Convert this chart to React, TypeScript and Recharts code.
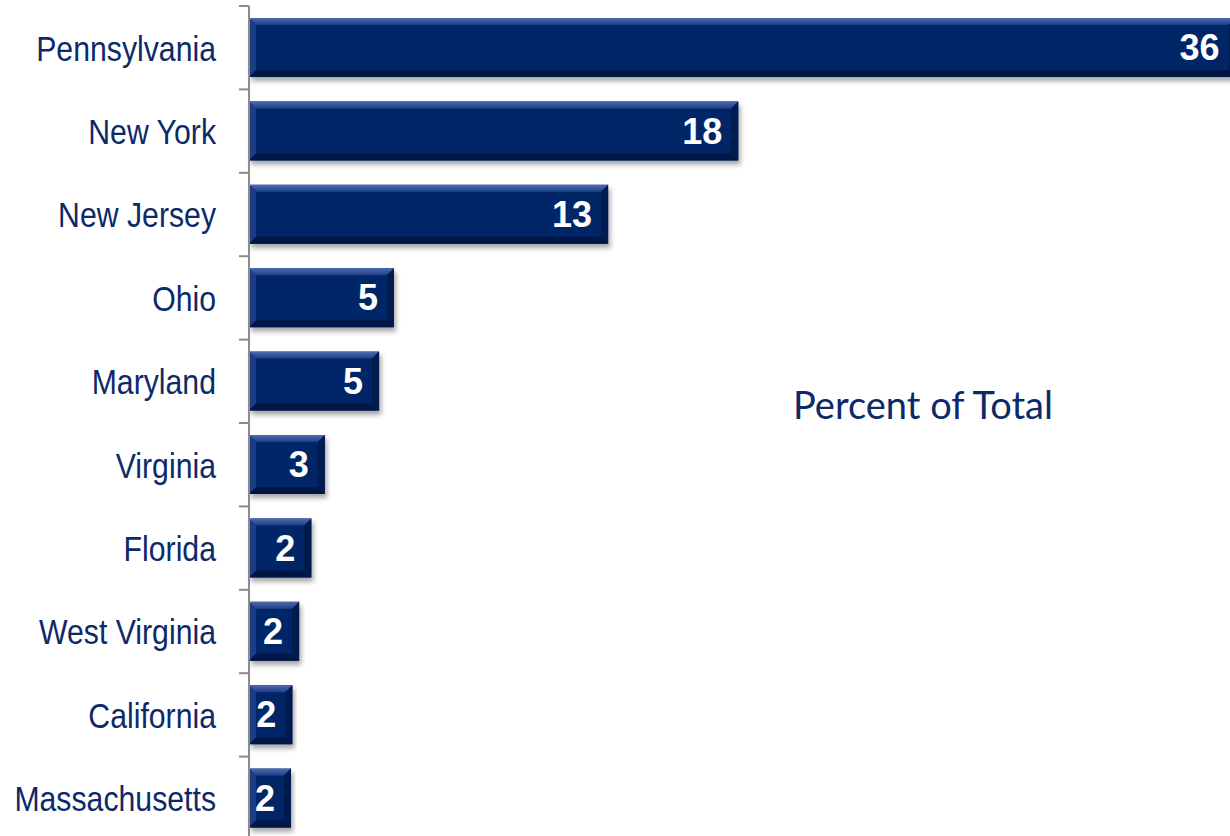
import { Bar, BarChart, Customized, LabelList, XAxis, YAxis } from "recharts";

const states = [
  "Pennsylvania",
  "New York",
  "New Jersey",
  "Ohio",
  "Maryland",
  "Virginia",
  "Florida",
  "West Virginia",
  "California",
  "Massachusetts",
];
// share of total (%); labels show rounded values
const shares = [36.4, 18.05, 13.25, 5.35, 4.8, 2.8, 2.3, 1.85, 1.6, 1.55];
const chartTitle = "Percent of Total";

const data = states.map((state, i) => ({ state, share: shares[i] }));

const NAVY = "#062567";
const TEXT = "#0c2a69";
const TICK_SIZE = 10;
const TICK_MARGIN = 23;

// y axis label + boundary tick marks (ticks sit between categories, not at centers)
const StateTick = (props: any) => {
  const { x, y, payload, index } = props;
  const half = payload?.offset ?? 41.7;
  const lx = x + TICK_MARGIN;
  return (
    <g>
      {/* no narrow font installed, so squeeze Liberation Sans horizontally */}
      <text transform={`translate(${x},${y}) scale(0.84,1)`} dy="0.36em" textAnchor="end" fill={TEXT} fontSize={36}
        fontFamily="'Liberation Sans', Arial, sans-serif">
        {payload.value}
      </text>
      <line x1={lx} x2={lx + TICK_SIZE} y1={y - half} y2={y - half} stroke="#8c8c8c" strokeWidth={2} />
      {index === states.length - 1 && (
        <line x1={lx} x2={lx + TICK_SIZE} y1={y + half} y2={y + half} stroke="#8c8c8c" strokeWidth={2} />
      )}
    </g>
  );
};

// beveled bar like the office "bevel" effect
const BevelBar = (props: any) => {
  const { x, y, width, height } = props;
  if (!width || width <= 0) return null;
  const b = Math.min(7, width / 2, height / 2);
  const x2 = x + width;
  const y2 = y + height;
  return (
    <g filter="url(#barShadow)">
      <rect x={x} y={y} width={width} height={height} fill={NAVY} />
      <polygon points={`${x},${y} ${x2},${y} ${x2 - b},${y + b} ${x + b},${y + b}`} fill="url(#topBevel)" />
      <polygon points={`${x},${y} ${x + b},${y + b} ${x + b},${y2 - b} ${x},${y2}`} fill="#1c3d85" />
      <polygon points={`${x2},${y} ${x2},${y2} ${x2 - b},${y2 - b} ${x2 - b},${y + b}`} fill="#041b50" />
      <polygon points={`${x},${y2} ${x + b},${y2 - b} ${x2 - b},${y2 - b} ${x2},${y2}`} fill="#031746" />
    </g>
  );
};

const Title = () => (
  <text x={923} y={419} textAnchor="middle" fill={TEXT} fontSize={38} fontFamily="Lato, 'Open Sans', sans-serif">
    {chartTitle}
  </text>
);

export default function App() {
  return (
    <div style={{ position: "absolute", left: 0, top: 0, width: 1230, height: 836, overflow: "hidden", background: "#fff" }}>
      <BarChart
        width={1300}
        height={846}
        data={data}
        layout="vertical"
        margin={{ top: 6, right: 21, left: 0, bottom: 6 }}
        barCategoryGap={12}
      >
        <defs>
          <linearGradient id="topBevel" x1="0" y1="0" x2="0" y2="1">
            <stop offset="0%" stopColor="#4d6cb0" />
            <stop offset="100%" stopColor="#1f3f86" />
          </linearGradient>
          <filter id="barShadow" x="-5%" y="-20%" width="115%" height="160%">
            <feDropShadow dx={2} dy={4} stdDeviation={2.5} floodColor="#000" floodOpacity={0.35} />
          </filter>
        </defs>
        <XAxis type="number" domain={[0, 38]} hide />
        <YAxis
          type="category"
          dataKey="state"
          width={249}
          tickSize={TICK_SIZE}
          tickMargin={TICK_MARGIN}
          tickLine={false}
          axisLine={{ stroke: "#8c8c8c", strokeWidth: 2 }}
          tick={<StateTick />}
          interval={0}
        />
        <Bar dataKey="share" shape={<BevelBar />} isAnimationActive={false}>
          <LabelList
            dataKey="share"
            position="insideRight"
            offset={16}
            fill="#fff"
            fontSize={36}
            fontWeight="bold"
            fontFamily="'Liberation Sans', Arial, sans-serif"
            formatter={(v: any) => Math.round(Number(v)).toString()}
          />
        </Bar>
        <Customized component={Title} />
      </BarChart>
    </div>
  );
}
